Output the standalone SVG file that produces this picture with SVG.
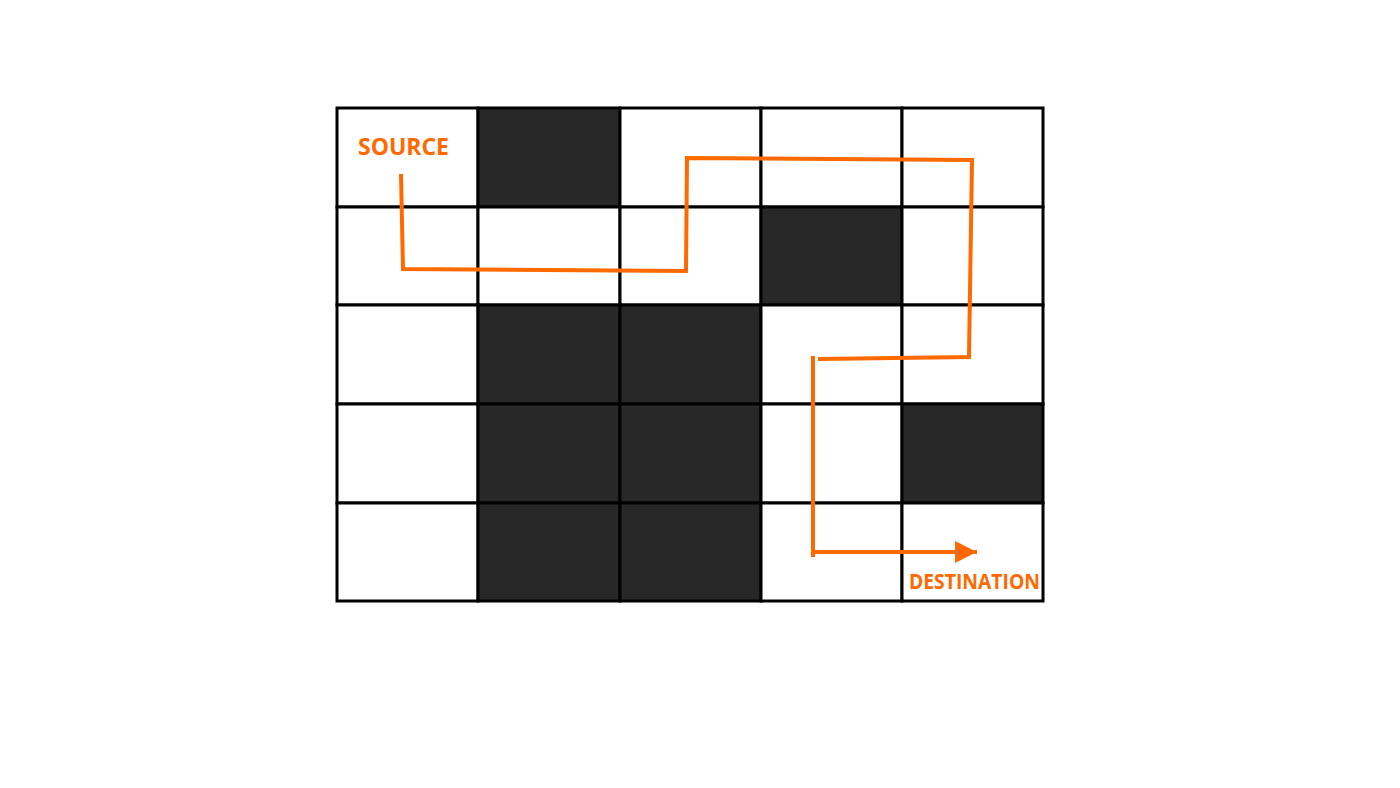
<svg xmlns="http://www.w3.org/2000/svg" width="1400" height="788" viewBox="0 0 1400 788">
<style>
.cell{fill:#ffffff;stroke:#000;stroke-width:3}
.dark{fill:#282828;stroke:#000;stroke-width:3}
.path{fill:none;stroke:#ff6a00;stroke-width:4;stroke-linejoin:miter;stroke-linecap:butt}
.lbl{font-family:"Open Sans","Liberation Sans",sans-serif;font-weight:bold;fill:#ff6a00}
</style>
<defs>
<marker id="arr" viewBox="0 0 10 10" refX="10" refY="5" markerWidth="5.5" markerHeight="5.5" orient="auto" markerUnits="strokeWidth">
<path d="M0,0 L10,5 L0,10 Z" fill="#ff6a00"/>
</marker>
</defs>
<rect width="1400" height="788" fill="#fff"/>
<g id="grid">
<rect class="cell" x="337" y="108" width="141" height="99"/>
<rect class="dark" x="478" y="108" width="142" height="99"/>
<rect class="cell" x="620" y="108" width="141" height="99"/>
<rect class="cell" x="761" y="108" width="141" height="99"/>
<rect class="cell" x="902" y="108" width="141" height="99"/>
<rect class="cell" x="337" y="207" width="141" height="98"/>
<rect class="cell" x="478" y="207" width="142" height="98"/>
<rect class="cell" x="620" y="207" width="141" height="98"/>
<rect class="dark" x="761" y="207" width="141" height="98"/>
<rect class="cell" x="902" y="207" width="141" height="98"/>
<rect class="cell" x="337" y="305" width="141" height="99"/>
<rect class="dark" x="478" y="305" width="142" height="99"/>
<rect class="dark" x="620" y="305" width="141" height="99"/>
<rect class="cell" x="761" y="305" width="141" height="99"/>
<rect class="cell" x="902" y="305" width="141" height="99"/>
<rect class="cell" x="337" y="404" width="141" height="99"/>
<rect class="dark" x="478" y="404" width="142" height="99"/>
<rect class="dark" x="620" y="404" width="141" height="99"/>
<rect class="cell" x="761" y="404" width="141" height="99"/>
<rect class="dark" x="902" y="404" width="141" height="99"/>
<rect class="cell" x="337" y="503" width="141" height="98"/>
<rect class="dark" x="478" y="503" width="142" height="98"/>
<rect class="dark" x="620" y="503" width="141" height="98"/>
<rect class="cell" x="761" y="503" width="141" height="98"/>
<rect class="cell" x="902" y="503" width="141" height="98"/>
</g>
<g id="connectors">
<polyline class="path" points="401,174 403,269 686,271 687,158 972,160 969,357 818,359"/>
<line class="path" x1="813" y1="356" x2="813" y2="557"/>
<line class="path" x1="813" y1="552" x2="977" y2="552" marker-end="url(#arr)"/>
</g>
<g id="source"><text class="lbl" x="403.5" y="154.5" font-size="23" text-anchor="middle" textLength="91" lengthAdjust="spacingAndGlyphs">SOURCE</text></g>
<g id="destination"><text class="lbl" x="974.5" y="589" font-size="21" text-anchor="middle" textLength="131" lengthAdjust="spacingAndGlyphs">DESTINATION</text></g>
</svg>
